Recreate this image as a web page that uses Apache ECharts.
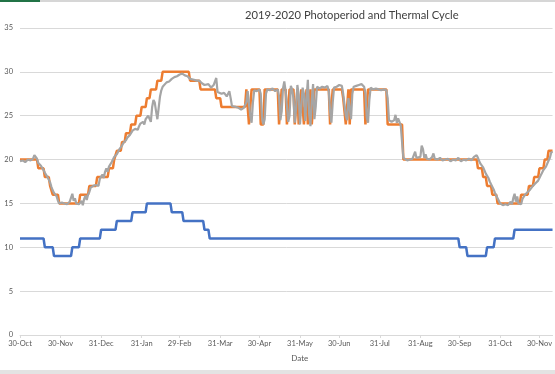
<!DOCTYPE html>
<html>
<head>
<meta charset="utf-8">
<script src="https://cdn.jsdelivr.net/npm/echarts@6/dist/echarts.min.js"></script>
<style>html,body{margin:0;padding:0;background:#fff;}#c{width:555px;height:374px;}</style>
</head>
<body>
<div id="c"></div>
<script>
// Day index 0 = 30-Oct-2019
const tickDays = [0,31,62,93,122,153,183,214,244,275,306,336,367,397];
const tickLabels = ['30-Oct','30-Nov','31-Dec','31-Jan','29-Feb','31-Mar','30-Apr','31-May','30-Jun','31-Jul','31-Aug','30-Sep','31-Oct','30-Nov'];

// Photoperiod (hours of light): day each level starts, and the level
const photoStart = [0,19,26,40,46,62,74,86,97,116,125,141,145,336,342,357,363,378];
const photoHours = [11,10,9,10,11,12,13,14,15,14,13,12,11,10,9,10,11,12];

// Target temperature: day each level starts, and the level
const targetStart = [0,14,19,23,25,30,46,53,59,68,72,74,78,81,85,89,93,97,100,105,109,130,138,150,154,173,
  175,177,184,187,198,200,204,206,210,212,213,215,217,219,220,222,223,225,237,239,247,249,251,252,253,264,266,
  281,293,350,354,357,361,365,383,389,393,397,401,404];
const targetTemp = [20,19,18,17,16,15,16,17,18,19,20,21,22,23,24,25,26,27,28,29,30,29,28,27,26,28,
  24,28,24,28,24,28,24,28,24,28,24,28,24,28,24,28,24,28,24,28,27,24,28,24,28,24,28,
  24,20,19,18,17,16,15,16,17,18,19,20,21];

// Measured temperature
const actualDays = [0,2,4,6,8,10,11,12,13,14,15,16,17,18,19,20,21,22,23,24,25,26,27,28,29,30,31,
  32,33,34,35,36,37,38,39,40,41,42,43,44,45,46,47,48,49,50,51,52,53,54,55,56,57,58,59,60,61,62,63,64,65,66,67,68,69,
  70,71,72,73,74,75,76,77,78,79,80,81,82,83,84,85,86,87,88,89,90,91,92,93,94,95,96,97,98,99,100,101,102,103,104,105,106,107,108,109,110,112,114,116,118,120,122,124,126,128,130,
  131,133,135,137,139,141,142,144,146,147,148,150,151,152,154,156,158,160,161,162,163,165,167,169,170,171,
  172,173,174,175,176,177,178,179,181,183,184,185,186,187,188,189,191,193,195,197,198,199,200,201,202,203,204,205,206,207,208,209,210,211,212,213,214,215,216,217,218,219,220,221,222,223,224,225,226,227,229,231,233,235,236,237,238,239,240,242,244,246,247,248,249,250,251,252,253,254,255,257,259,261,263,264,265,266,267,268,270,272,274,276,278,280,281,282,284,286,287,288,289,290,291,292,293,
  294,296,298,300,302,303,304,306,307,308,309,310,311,313,315,316,317,319,321,323,325,327,329,331,333,335,337,339,341,343,345,347,349,350,
  351,352,353,354,355,356,357,358,359,360,361,362,363,364,365,366,367,368,369,370,371,372,373,374,375,376,377,378,379,380,381,382,383,384,385,386,387,388,389,390,391,392,393,394,395,396,397,398,399,400,401,402,403,404,405,406,407];
const actualTemp = [19.8,19.9,19.7,20.0,19.9,20.1,20.5,20.3,20.1,19.6,19.7,19.3,19.4,18.8,18.5,18.6,18.0,17.8,17.4,16.9,16.5,16.2,16.0,15.8,15.3,15.0,14.8,
  15.1,14.9,15.0,15.1,14.9,15.0,15.2,15.0,16.1,15.3,15.6,15.0,15.2,14.9,15.0,15.3,14.8,15.5,15.9,15.4,16.0,16.3,16.8,16.6,17.0,16.9,17.1,17.3,17.0,17.8,18.0,18.3,17.9,18.6,19.0,18.6,19.2,19.0,
  19.7,19.9,20.3,20.1,20.6,20.9,21.2,21.0,21.6,21.9,21.8,22.2,22.5,22.4,22.8,23.0,23.3,23.1,23.5,23.6,23.4,23.8,24.1,23.9,24.3,24.0,24.6,24.4,25.0,25.2,24.3,26.0,26.8,26.5,25.5,24.6,24.5,27.2,27.9,28.3,28.5,28.8,28.9,29.2,29.4,29.5,29.7,29.8,29.6,29.5,29.2,
  29.4,29.1,29.0,29.0,28.7,28.5,28.3,28.6,28.2,28.1,28.5,29.3,27.7,27.6,27.5,27.6,27.2,27.8,27.0,26.1,26.3,26.0,25.9,25.7,25.6,25.9,
  26.0,26.5,27.8,27.6,25.0,24.2,26.5,27.9,27.8,28.0,27.5,24.8,24.0,24.6,27.5,28.0,27.9,28.1,27.8,28.0,27.2,24.5,25.5,28.1,28.9,27.8,28.0,24.3,25.0,28.4,28.0,27.0,24.2,25.8,28.5,27.4,24.0,26.1,28.2,27.5,24.4,27.0,29.1,25.2,23.8,26.8,28.6,24.6,26.0,28.3,28.1,28.3,28.2,28.4,27.8,25.5,24.2,26.5,28.2,28.3,28.5,28.4,27.5,27.3,25.0,24.5,27.0,26.8,24.6,27.5,28.3,28.4,28.5,28.6,28.3,27.6,24.8,24.2,26.8,28.2,28.0,28.1,28.0,27.9,28.0,27.9,27.0,24.5,24.3,24.5,25.1,24.2,24.7,24.3,23.9,22.0,20.2,
  20.0,19.9,20.0,20.1,20.9,20.2,20.0,20.3,21.6,21.2,20.2,20.6,20.1,20.0,20.3,20.7,20.1,20.0,20.2,19.9,20.0,20.1,19.8,20.0,19.9,20.2,19.8,20.0,19.9,20.1,19.9,20.3,20.5,20.2,
  19.8,19.5,19.6,19.1,19.0,18.4,18.2,17.9,17.5,17.2,17.0,16.6,16.2,16.0,15.6,15.4,15.0,14.9,14.8,15.0,14.9,15.1,14.8,15.0,15.2,14.9,15.6,16.1,15.2,15.8,15.0,15.1,14.9,15.5,15.7,16.0,15.9,16.3,16.5,16.6,16.8,17.0,17.1,17.3,17.5,17.6,17.9,18.2,18.5,18.8,19.0,19.2,19.4,19.9,20.2,20.8,20.9];

const AXIS_MAX = 407;

function stepData(starts, values, endDay) {
  const out = [];
  for (let i = 0; i < starts.length; i++) {
    const end = i + 1 < starts.length ? starts[i + 1] - 1 : endDay;
    out.push([starts[i], values[i]]);
    if (end > starts[i]) out.push([end, values[i]]);
  }
  return out;
}

const photoData = stepData(photoStart, photoHours, AXIS_MAX);
const targetData = stepData(targetStart, targetTemp, AXIS_MAX);
const actualData = actualDays.map((d, i) => [d, actualTemp[i]]);

const FONT = 'Lato';
const chart = echarts.init(document.getElementById('c'), null, {renderer: 'canvas'});
chart.setOption({
  animation: false,
  backgroundColor: '#ffffff',
  textStyle: {fontFamily: FONT},
  title: {
    text: '2019-2020 Photoperiod and Thermal Cycle',
    left: 240, top: 5,
    textStyle: {fontFamily: FONT, fontSize: 11.2, fontWeight: 'normal', color: '#404040'}
  },
  graphic: [
    {type: 'rect', shape: {x: 0, y: 0, width: 555, height: 2}, style: {fill: '#d6d6d6'}, silent: true},
    {type: 'rect', shape: {x: 0, y: 0, width: 40, height: 2}, style: {fill: '#217346'}, silent: true},
    {type: 'rect', shape: {x: 0, y: 370, width: 555, height: 4}, style: {fill: '#e3e3e3'}, silent: true}
  ],
  grid: {left: 20, right: 0, top: 28, bottom: 39, containLabel: false},
  xAxis: {
    type: 'value', min: 0, max: AXIS_MAX,
    name: 'Date', nameLocation: 'middle', nameGap: 19,
    nameTextStyle: {fontFamily: FONT, fontSize: 8, color: '#595959', padding: [0, 0, 0, 27]},
    axisLine: {show: true, lineStyle: {color: '#d9d9d9', width: 1}},
    axisTick: {show: true, length: 3, customValues: tickDays, lineStyle: {color: '#d9d9d9'}},
    axisLabel: {
      customValues: tickDays, margin: 5, fontFamily: FONT, fontSize: 7.5, color: '#595959',
      formatter: v => { const i = tickDays.indexOf(Math.round(v)); return i >= 0 ? tickLabels[i] : ''; }
    },
    splitLine: {show: false}
  },
  yAxis: {
    type: 'value', min: 0, max: 35, interval: 5,
    axisLine: {show: false}, axisTick: {show: false},
    axisLabel: {margin: 7, fontFamily: FONT, fontSize: 7.5, color: '#595959'},
    splitLine: {lineStyle: {color: '#d9d9d9', width: 1}}
  },
  series: [
    {name: 'Photoperiod', type: 'line', data: photoData, showSymbol: false, lineStyle: {color: '#4472C4', width: 2.5}, itemStyle: {color: '#4472C4'}},
    {name: 'Target', type: 'line', data: targetData, showSymbol: false, lineStyle: {color: '#ED7D31', width: 2.5}, itemStyle: {color: '#ED7D31'}},
    {name: 'Actual', type: 'line', data: actualData, showSymbol: false, lineStyle: {color: '#A5A5A5', width: 2.2}, itemStyle: {color: '#A5A5A5'}}
  ]
});
</script>
</body>
</html>
